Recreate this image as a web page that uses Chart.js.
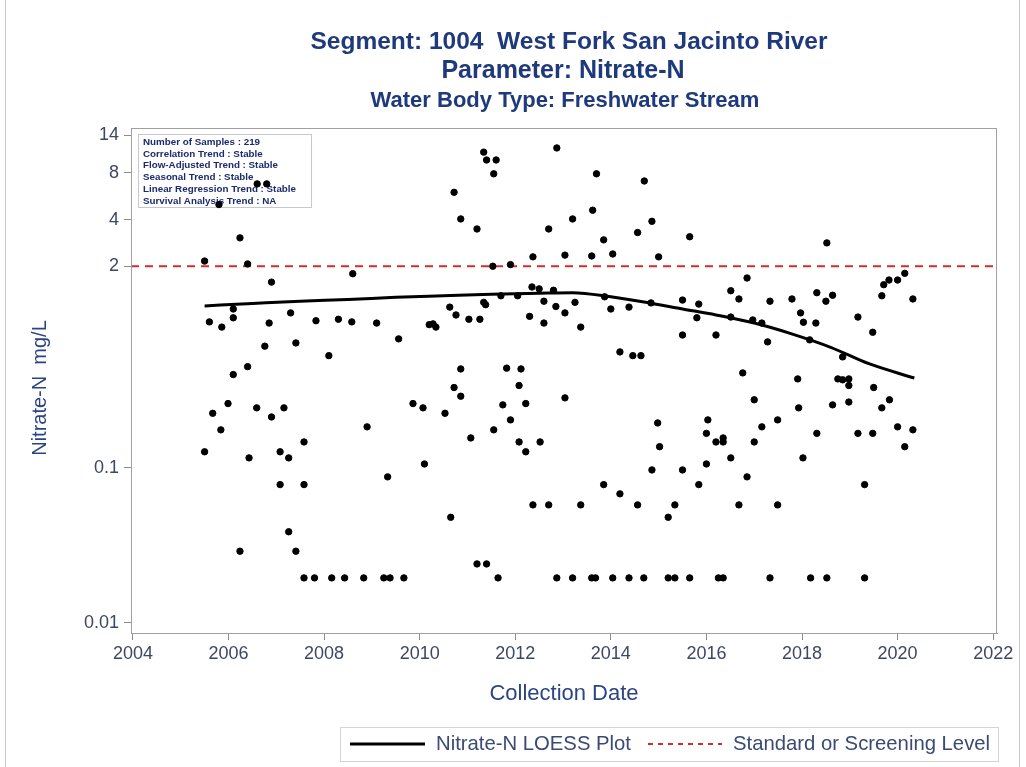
<!DOCTYPE html>
<html>
<head>
<meta charset="utf-8">
<title>Nitrate-N - Segment 1004</title>
<script src="https://cdn.jsdelivr.net/npm/chart.js@4.4.0/dist/chart.umd.min.js"></script>
<style>
  html, body { margin: 0; padding: 0; background: #fff; }
  #wrap { position: relative; width: 1026px; height: 767px; }
</style>
</head>
<body>
<div id="wrap"><canvas id="chart" width="1026" height="767"></canvas></div>
<script>
// sample dates as decimal years, values in mg/L
const sampleDates = [
  2006.24, 2005.50, 2006.40, 2006.90, 2008.60, 2006.60, 2006.80, 2005.80, 2006.10, 2005.60,
  2005.86, 2006.10, 2006.85, 2007.30, 2007.83, 2008.30, 2008.58, 2009.10, 2010.20, 2006.76,
  2007.41, 2008.10, 2009.56, 2006.10, 2006.40,
  2005.99, 2005.67, 2006.59, 2006.90, 2007.16, 2005.84, 2008.90, 2009.86, 2010.07, 2005.50,
  2006.43, 2007.08, 2007.26, 2007.58, 2010.10, 2009.33, 2007.08, 2007.58, 2007.26, 2006.24,
  2007.41, 2007.58, 2007.80, 2008.16, 2008.43, 2008.83, 2009.25, 2009.38, 2009.67,
  2011.34, 2011.40, 2011.60, 2011.55, 2012.87, 2010.72, 2010.86, 2011.20, 2012.70, 2013.20,
  2013.62, 2013.70, 2014.70, 2013.85, 2014.56, 2014.86, 2015.65, 2012.37, 2013.04, 2013.60,
  2014.04, 2015.00, 2011.53, 2011.90, 2012.35, 2012.50, 2012.80, 2011.70, 2012.05, 2010.63,
  2011.34, 2011.38, 2010.76, 2011.03, 2011.26, 2012.60, 2012.85, 2013.25, 2013.87, 2014.00,
  2014.38, 2014.84, 2015.50, 2015.84, 2015.80, 2012.30, 2012.60, 2013.04, 2013.37, 2010.28,
  2010.34, 2015.50, 2016.20, 2014.19, 2014.46, 2014.63, 2010.86, 2011.82, 2012.12, 2010.72,
  2012.08,
  2010.86, 2010.53, 2011.74, 2012.22, 2011.90, 2011.55, 2011.07, 2012.08, 2012.52, 2012.22,
  2013.04, 2010.65, 2011.20, 2011.40, 2011.64, 2012.37, 2012.70, 2013.37, 2013.85, 2014.19,
  2014.56, 2014.98, 2015.02, 2014.86, 2015.50, 2015.84, 2016.03, 2016.00, 2016.20, 2016.00,
  2015.34, 2015.20, 2012.87, 2013.20, 2013.60, 2013.68, 2014.04, 2014.38, 2014.69, 2015.20,
  2015.34, 2015.65, 2016.25,
  2018.52, 2016.85, 2016.51, 2016.68, 2017.33, 2017.79, 2018.31, 2018.50, 2018.64, 2019.67,
  2019.71, 2019.82, 2020.00, 2020.15, 2020.32, 2017.97, 2018.03, 2018.29, 2016.97, 2017.16,
  2016.51, 2019.17, 2017.28, 2019.48, 2018.16, 2018.85, 2016.76, 2017.91, 2018.75, 2018.85,
  2018.98, 2018.98, 2019.50,
  2017.00, 2017.93, 2018.64, 2018.98, 2019.67, 2019.83, 2017.49, 2017.16, 2016.35, 2016.35,
  2017.00, 2018.31, 2019.17, 2019.48, 2020.00, 2020.32, 2020.15, 2016.51, 2018.02, 2016.85,
  2019.31, 2016.68, 2017.49, 2016.35, 2017.33, 2018.18, 2018.52, 2019.31
];
const nitrateValues = [
  3.05, 2.16, 2.07, 1.58, 1.79, 6.8, 6.8, 5.0, 1.06, 0.875,
  0.81, 0.93, 0.86, 1.0, 0.89, 0.91, 0.875, 0.86, 0.84, 0.61,
  0.64, 0.53, 0.68, 0.40, 0.45,
  0.26, 0.225, 0.244, 0.213, 0.244, 0.176, 0.184, 0.26, 0.244, 0.127,
  0.116, 0.127, 0.116, 0.147, 0.106, 0.0875, 0.078, 0.078, 0.0387, 0.029,
  0.029, 0.0195, 0.0195, 0.0195, 0.0195, 0.0195, 0.0195, 0.0195, 0.0195,
  10.9, 9.7, 9.7, 7.9, 11.6, 6.0, 4.04, 3.48, 3.48, 4.04,
  4.6, 7.9, 7.1, 2.96, 3.3, 3.9, 3.1, 2.3, 2.36, 2.33,
  2.4, 2.3, 2.0, 2.05, 1.47, 1.43, 1.4, 1.29, 1.29, 1.09,
  1.17, 1.13, 0.97, 0.91, 0.91, 1.19, 1.1, 1.17, 1.27, 1.06,
  1.09, 1.16, 1.21, 1.14, 0.93, 0.95, 0.86, 1.0, 0.81, 0.85,
  0.81, 0.72, 0.72, 0.56, 0.53, 0.53, 0.435, 0.44, 0.435, 0.33,
  0.34,
  0.29, 0.225, 0.255, 0.26, 0.204, 0.176, 0.156, 0.147, 0.147, 0.127,
  0.283, 0.048, 0.024, 0.024, 0.0195, 0.0577, 0.0577, 0.0577, 0.078, 0.068,
  0.0577, 0.195, 0.137, 0.097, 0.097, 0.078, 0.204, 0.167, 0.147, 0.106,
  0.0577, 0.048, 0.0195, 0.0195, 0.0195, 0.0195, 0.0195, 0.0195, 0.0195, 0.0195,
  0.0195, 0.0195, 0.0195,
  2.83, 1.68, 1.39, 1.23, 1.19, 1.23, 1.35, 1.19, 1.3, 1.29,
  1.52, 1.63, 1.63, 1.8, 1.23, 1.0, 0.87, 0.86, 0.9, 0.86,
  0.94, 0.94, 0.65, 0.75, 0.67, 0.52, 0.41, 0.375, 0.375, 0.37,
  0.375, 0.34, 0.33,
  0.275, 0.244, 0.255, 0.266, 0.244, 0.275, 0.204, 0.184, 0.156, 0.147,
  0.147, 0.167, 0.167, 0.167, 0.184, 0.176, 0.137, 0.116, 0.116, 0.0875,
  0.078, 0.0577, 0.0577, 0.0195, 0.0195, 0.0195, 0.0195, 0.0195
];

// LOESS smooth
const loessYears  = [2005.5, 2006.5, 2007.5, 2008.5, 2009.5, 2010.5, 2011.5, 2012.5, 2013.2, 2014.0, 2014.8, 2015.5, 2016.2, 2017.0, 2017.8, 2018.6, 2019.4, 2020.35];
const loessValues = [1.11, 1.15, 1.19, 1.22, 1.26, 1.29, 1.32, 1.34, 1.35, 1.27, 1.16, 1.06, 0.97, 0.86, 0.73, 0.60, 0.47, 0.38];

const screeningLevel = 2;

const xMin = 2003.96, xMax = 2022.08;
const xTicks = [2004, 2006, 2008, 2010, 2012, 2014, 2016, 2018, 2020, 2022];
const yMin = 0.0086, yMax = 15.6;
const yTicks = [0.01, 0.1, 2, 4, 8, 14];

const infoLines = [
  'Number of Samples : 219',
  'Correlation Trend : Stable',
  'Flow-Adjusted Trend : Stable',
  'Seasonal Trend : Stable',
  'Linear Regression Trend : Stable',
  'Survival Analysis Trend : NA'
];

const FONT = '"Liberation Sans", Arial, sans-serif';
const navy = '#1f3a7c';
const labelBlue = '#2b4584';

const points = sampleDates.map((d, i) => ({ x: d, y: nitrateValues[i] }));
const loess = loessYears.map((d, i) => ({ x: d, y: loessValues[i] }));
const standard = [{ x: xMin, y: screeningLevel }, { x: xMax, y: screeningLevel }];

const decor = {
  id: 'decor',
  beforeDraw(chart) {
    const ctx = chart.ctx;
    ctx.save();
    ctx.fillStyle = '#fff';
    ctx.fillRect(0, 0, chart.width, chart.height);
    ctx.strokeStyle = '#c9c9c9';
    ctx.lineWidth = 1;
    ctx.strokeRect(5.5, -2, 1014, 771);
    ctx.restore();
  },
  beforeDatasetsDraw(chart) {
    const ctx = chart.ctx;
    ctx.save();
    // stats box
    ctx.strokeStyle = '#c4c8d4';
    ctx.lineWidth = 1;
    ctx.strokeRect(138.5, 134.5, 173, 73);
    ctx.fillStyle = '#1c2a6e';
    ctx.font = 'bold 9.8px ' + FONT;
    ctx.textBaseline = 'middle';
    infoLines.forEach((t, i) => ctx.fillText(t, 143, 142 + i * 11.8));
    ctx.restore();
  },
  afterDraw(chart) {
    const ctx = chart.ctx;
    const a = chart.chartArea;
    ctx.save();
    // plot frame
    ctx.strokeStyle = '#a0a0a0';
    ctx.lineWidth = 1;
    ctx.strokeRect(a.left + 0.5, a.top + 0.5, a.right - a.left - 1, a.bottom - a.top);

    // titles
    ctx.fillStyle = navy;
    ctx.textAlign = 'center';
    ctx.textBaseline = 'middle';
    ctx.font = 'bold 24.5px ' + FONT;
    ctx.fillText('Segment: 1004  West Fork San Jacinto River', 569, 42);
    ctx.font = 'bold 25px ' + FONT;
    ctx.fillText('Parameter: Nitrate-N', 563, 71);
    ctx.font = 'bold 22px ' + FONT;
    ctx.fillText('Water Body Type: Freshwater Stream', 565, 101);

    // y axis title
    ctx.save();
    ctx.translate(40, 388);
    ctx.rotate(-Math.PI / 2);
    ctx.fillStyle = labelBlue;
    ctx.font = '20px ' + FONT;
    ctx.fillText('Nitrate-N  mg/L', 0, 0);
    ctx.restore();

    // legend
    ctx.strokeStyle = '#d4d4d4';
    ctx.lineWidth = 1;
    ctx.strokeRect(340.5, 727.5, 658, 34);
    ctx.strokeStyle = '#000';
    ctx.lineWidth = 3;
    ctx.beginPath(); ctx.moveTo(350, 744); ctx.lineTo(425, 744); ctx.stroke();
    ctx.strokeStyle = '#d22d2d';
    ctx.lineWidth = 2;
    ctx.setLineDash([5, 5]);
    ctx.beginPath(); ctx.moveTo(648, 744); ctx.lineTo(722, 744); ctx.stroke();
    ctx.setLineDash([]);
    ctx.fillStyle = '#3a4a72';
    ctx.font = '20.3px ' + FONT;
    ctx.textAlign = 'left';
    ctx.fillText('Nitrate-N LOESS Plot', 436, 744);
    ctx.fillText('Standard or Screening Level', 733, 744);
    ctx.restore();
  }
};

new Chart(document.getElementById('chart'), {
  data: {
    datasets: [
      {
        type: 'scatter',
        label: 'Nitrate-N',
        data: points,
        backgroundColor: '#000',
        borderColor: '#000',
        pointRadius: 3.2,
        pointHoverRadius: 3.2,
        order: 0
      },
      {
        type: 'line',
        label: 'Nitrate-N LOESS Plot',
        data: loess,
        borderColor: '#000',
        borderWidth: 3,
        pointRadius: 0,
        cubicInterpolationMode: 'monotone',
        fill: false,
        order: 1
      },
      {
        type: 'line',
        label: 'Standard or Screening Level',
        data: standard,
        borderColor: '#d22d2d',
        borderWidth: 2,
        borderDash: [8, 6],
        pointRadius: 0,
        fill: false,
        order: 2
      }
    ]
  },
  options: {
    responsive: false,
    animation: false,
    devicePixelRatio: 1,
    layout: { padding: { left: 0, top: 128, right: 29, bottom: 57 } },
    plugins: {
      legend: { display: false },
      tooltip: { enabled: false }
    },
    scales: {
      x: {
        type: 'linear',
        min: xMin,
        max: xMax,
        afterBuildTicks: s => { s.ticks = xTicks.map(v => ({ value: v })); },
        afterFit: s => { s.height = 77; },
        ticks: {
          color: '#3d4766',
          font: { family: FONT, size: 18 },
          padding: 3,
          maxRotation: 0,
          callback: v => String(v)
        },
        grid: { drawOnChartArea: false, drawTicks: true, tickLength: 7, color: '#8c8c8c' },
        border: { display: true, color: '#a0a0a0' },
        title: {
          display: true,
          text: 'Collection Date',
          color: labelBlue,
          font: { family: FONT, size: 22 },
          padding: { top: 0, bottom: 3 }
        }
      },
      y: {
        type: 'logarithmic',
        min: yMin,
        max: yMax,
        afterBuildTicks: s => { s.ticks = yTicks.map(v => ({ value: v })); },
        afterFit: s => { s.width = 131; },
        ticks: {
          color: '#3d4766',
          font: { family: FONT, size: 18 },
          padding: 5,
          callback: v => String(v)
        },
        grid: { drawOnChartArea: false, drawTicks: true, tickLength: 7, color: '#8c8c8c' },
        border: { display: true, color: '#a0a0a0' },
        title: { display: false }
      }
    }
  },
  plugins: [decor]
});
</script>
</body>
</html>
